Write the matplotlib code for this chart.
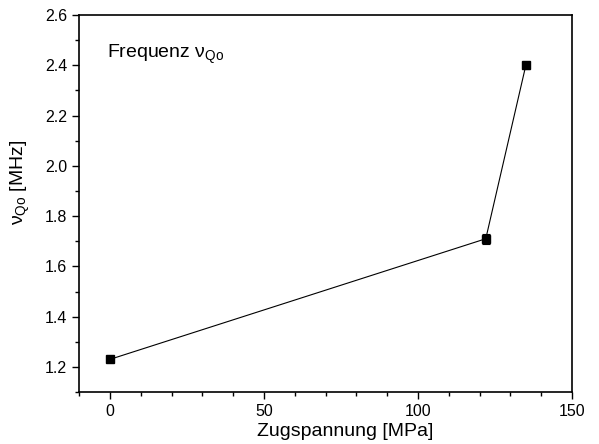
import matplotlib
matplotlib.use("Agg")
import matplotlib.pyplot as plt
from matplotlib.ticker import MultipleLocator, FormatStrFormatter

plt.rcParams['font.family'] = ['Liberation Sans', 'DejaVu Sans']
plt.rcParams['mathtext.fontset'] = 'custom'
plt.rcParams['mathtext.rm'] = 'Liberation Sans'
plt.rcParams['mathtext.it'] = 'Liberation Sans'

# Tensile stress [MPa] and quadrupole frequency [MHz]
stress = [0, 122, 135]
freq = [1.23, 1.71, 2.40]
freq_err = [0.005, 0.02, 0.015]

fig = plt.figure(figsize=(5.99, 4.44), dpi=100)
ax = fig.add_axes([0.132, 0.117, 0.823, 0.849])

ax.errorbar(stress, freq, yerr=freq_err, color='black', marker='s',
            markersize=6, linewidth=0.8, elinewidth=0.8, capsize=3,
            capthick=0.8)

ax.set_xlim(-10, 150)
ax.set_ylim(1.1, 2.6)
ax.xaxis.set_major_locator(MultipleLocator(50))
ax.xaxis.set_minor_locator(MultipleLocator(10))
ax.yaxis.set_major_locator(MultipleLocator(0.2))
ax.yaxis.set_minor_locator(MultipleLocator(0.1))
ax.yaxis.set_major_formatter(FormatStrFormatter('%.1f'))

ax.tick_params(which='both', direction='out', top=False, right=False,
               labelsize=11.5, width=1)
ax.tick_params(which='major', length=5)
ax.tick_params(which='minor', length=3)
for s in ax.spines.values():
    s.set_linewidth(1.2)

ax.set_xlabel('Zugspannung [MPa]', fontsize=14)
ax.xaxis.set_label_coords(0.54, -0.082)
ax.set_ylabel(r'$\nu_{\mathrm{Qo}}$ [MHz]', fontsize=14)
ax.yaxis.set_label_coords(-0.095, 0.557)
ax.text(0.057, 0.886, r'Frequenz $\nu_{\mathrm{Qo}}$', transform=ax.transAxes,
        fontsize=14, ha='left', va='baseline')

fig.savefig('out.png', dpi=100)
